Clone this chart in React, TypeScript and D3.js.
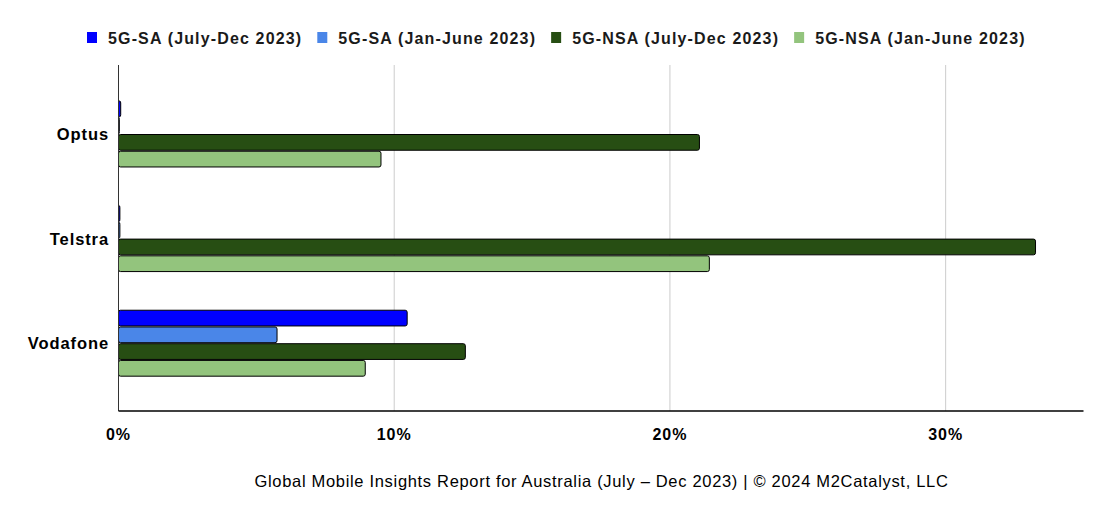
import { useEffect, useRef } from "react"
import * as d3 from "d3"

const operators = ["Optus", "Telstra", "Vodafone"]
const seriesNames = ["5G-SA (July-Dec 2023)", "5G-SA (Jan-June 2023)", "5G-NSA (July-Dec 2023)", "5G-NSA (Jan-June 2023)"]
const seriesColors = ["#0000ff", "#4a86e8", "#274e13", "#93c47d"]
const saJulDec = [0.08, 0.05, 10.47]
const saJanJun = [0.03, 0.05, 5.75]
const nsaJulDec = [21.07, 33.26, 12.58]
const nsaJanJun = [9.52, 21.43, 8.95]
const xTicks = [0, 10, 20, 30]
const footer = "Global Mobile Insights Report for Australia (July \u2013 Dec 2023) | \u00a9 2024 M2Catalyst, LLC"

export default function App() {
  const svgRef = useRef<SVGSVGElement>(null)

  useEffect(() => {
    if (!svgRef.current) return
    const width = 1110
    const height = 517
    const font = "Arial, 'Liberation Sans', sans-serif"

    d3.select(svgRef.current).selectAll("*").remove()
    const svg = d3.select(svgRef.current).attr("width", width).attr("height", height)

    const x = d3.scaleLinear().domain([0, 35]).range([118.5, 1083.5])
    const y = d3.scaleBand().domain(operators).range([81.7, 395.5]).paddingInner(0.36).paddingOuter(0.18)
    const inner = d3.scaleBand().domain(seriesNames).range([0, y.bandwidth()])

    const series = [saJulDec, saJanJun, nsaJulDec, nsaJanJun]
    const plotTop = 65
    const plotBottom = 411

    // grid
    svg.append("g")
      .selectAll("line")
      .data(xTicks.filter((t) => t > 0))
      .enter()
      .append("line")
      .attr("x1", (d) => x(d))
      .attr("x2", (d) => x(d))
      .attr("y1", plotTop)
      .attr("y2", plotBottom)
      .attr("stroke", "#cccccc")
      .attr("stroke-width", 1)

    // bars
    const groups = svg.append("g")
      .selectAll("g")
      .data(operators)
      .enter()
      .append("g")
      .attr("transform", (d) => `translate(0,${y(d)})`)

    groups.selectAll("rect")
      .data((_, i) => series.map((s, k) => ({ name: seriesNames[k], value: s[i], color: seriesColors[k] })))
      .enter()
      .append("rect")
      .attr("x", x(0))
      .attr("y", (d) => inner(d.name)! + 0.5)
      .attr("width", (d) => x(d.value) - x(0))
      .attr("height", inner.bandwidth() - 1)
      .attr("rx", 2)
      .attr("fill", (d) => d.color)
      .attr("stroke", "#000")
      .attr("stroke-width", 1)

    // axes lines
    svg.append("line")
      .attr("x1", x(0)).attr("x2", x(0))
      .attr("y1", plotTop).attr("y2", plotBottom)
      .attr("stroke", "#333").attr("stroke-width", 1)
    svg.append("line")
      .attr("x1", x(0)).attr("x2", x(35))
      .attr("y1", plotBottom).attr("y2", plotBottom)
      .attr("stroke", "#000").attr("stroke-width", 1.5)

    // category labels
    svg.append("g")
      .selectAll("text")
      .data(operators)
      .enter()
      .append("text")
      .attr("x", 109)
      .attr("y", (d) => y(d)! + y.bandwidth() / 2 + 6)
      .attr("text-anchor", "end")
      .attr("font-family", font)
      .attr("font-weight", "bold")
      .attr("font-size", 16.5)
      .attr("letter-spacing", 0.9)
      .attr("fill", "#000")
      .text((d) => d)

    // tick labels
    svg.append("g")
      .selectAll("text")
      .data(xTicks)
      .enter()
      .append("text")
      .attr("x", (d) => x(d))
      .attr("y", 440)
      .attr("text-anchor", "middle")
      .attr("font-family", font)
      .attr("font-weight", "bold")
      .attr("font-size", 16)
      .attr("letter-spacing", 1)
      .attr("fill", "#000")
      .text((d) => `${d}%`)

    // legend
    const legend = svg.append("g")
    let lx = 87
    seriesNames.forEach((name, k) => {
      legend.append("rect")
        .attr("x", lx).attr("y", 32)
        .attr("width", 10).attr("height", 11)
        .attr("fill", seriesColors[k])
      const t = legend.append("text")
        .attr("x", lx + 21)
        .attr("y", 43.5)
        .attr("font-family", font)
        .attr("font-weight", "bold")
        .attr("font-size", 16)
        .attr("letter-spacing", 1.15)
        .attr("fill", "#1a1a1a")
        .text(name)
      const w = (t.node() as SVGTextElement).getComputedTextLength()
      lx += 21 + w + 15
    })

    // footer
    svg.append("text")
      .attr("x", 601.5)
      .attr("y", 487)
      .attr("text-anchor", "middle")
      .attr("font-family", font)
      .attr("font-size", 16.5)
      .attr("letter-spacing", 0.68)
      .attr("fill", "#000")
      .text(footer)
  }, [])

  return <svg ref={svgRef} style={{ position: "absolute", left: 0, top: 0, background: "#fff" }} />
}
